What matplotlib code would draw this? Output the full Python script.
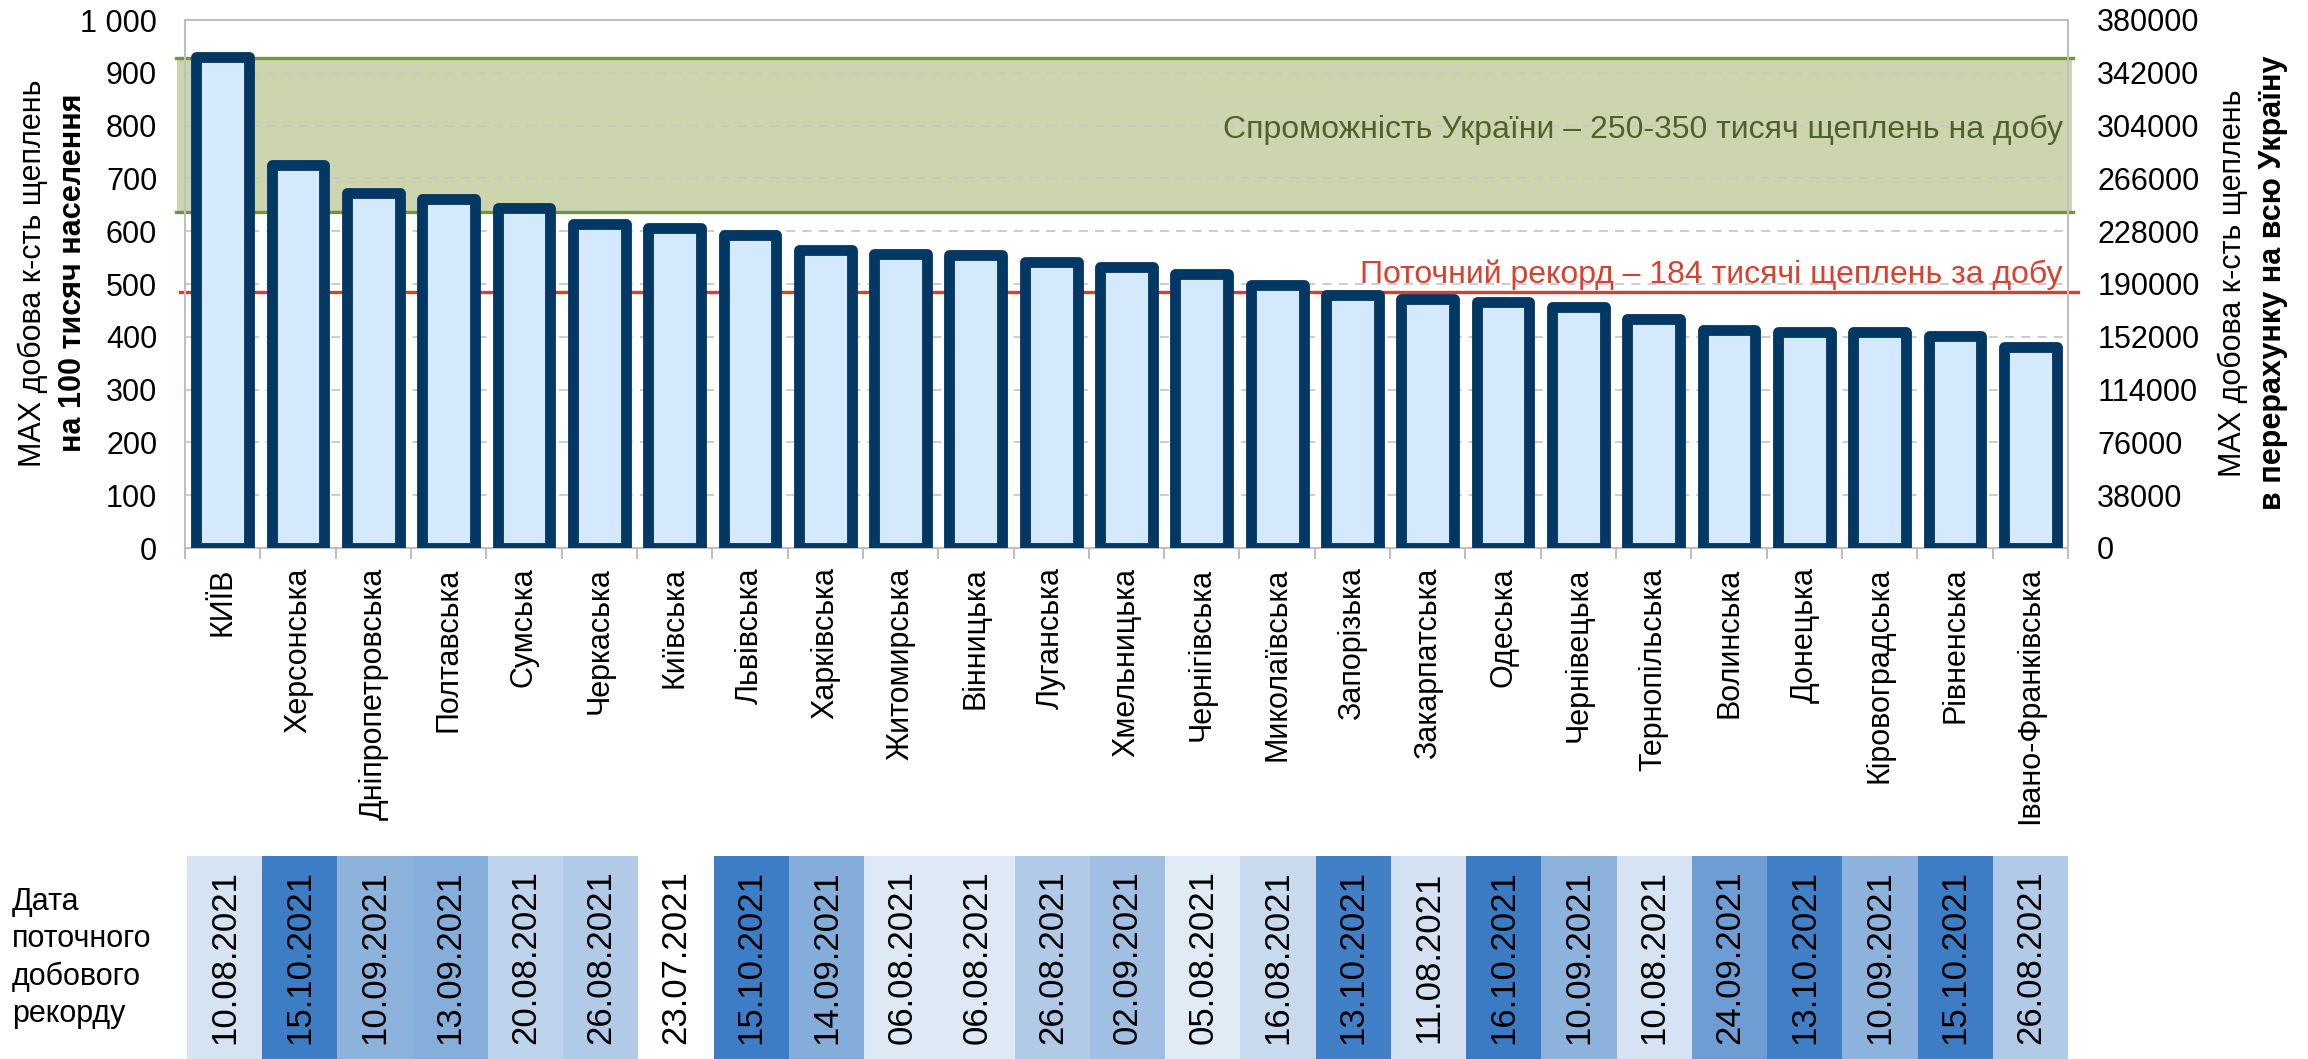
import numpy as np
import pandas as pd
import matplotlib
matplotlib.use("Agg")
from matplotlib import pyplot as plt
from matplotlib.colors import LinearSegmentedColormap

plt.rcParams['font.family'] = ['Liberation Sans', 'DejaVu Sans']

regions = ["КИЇВ", "Херсонська", "Дніпропетровська", "Полтавська", "Сумська",
           "Черкаська", "Київська", "Львівська", "Харківська", "Житомирська",
           "Вінницька", "Луганська", "Хмельницька", "Чернігівська", "Миколаївська",
           "Запорізька", "Закарпатська", "Одеська", "Чернівецька", "Тернопільська",
           "Волинська", "Донецька", "Кіровоградська", "Рівненська", "Івано-Франківська"]
max_per_100k = [930, 725, 673, 661, 643, 613, 606, 593, 565, 557,
                554, 541, 533, 519, 498, 480, 472, 466, 457, 434,
                413, 409, 409, 402, 380]
record_dates = ["10.08.2021", "15.10.2021", "10.09.2021", "13.09.2021", "20.08.2021",
                "26.08.2021", "23.07.2021", "15.10.2021", "14.09.2021", "06.08.2021",
                "06.08.2021", "26.08.2021", "02.09.2021", "05.08.2021", "16.08.2021",
                "13.10.2021", "11.08.2021", "16.10.2021", "10.09.2021", "10.08.2021",
                "24.09.2021", "13.10.2021", "10.09.2021", "15.10.2021", "26.08.2021"]

# capacity band and current record (left-axis units)
capacity_low, capacity_high = 637, 928
record_level = 484
right_max = 380000

W, H = 2308, 1059
fig = plt.figure(figsize=(W / 100, H / 100), dpi=100)

ax_l, ax_r, ax_t, ax_b = 185, 2068, 20, 548
ax = fig.add_axes([ax_l / W, 1 - ax_b / H, (ax_r - ax_l) / W, (ax_b - ax_t) / H])

x = np.arange(len(regions))
bars = ax.bar(x, max_per_100k, width=0.70, color='#D4EAFC', edgecolor='#023863',
              linewidth=7.8, zorder=3)
for b in bars:
    b.set_joinstyle('round')

# capacity band
ax.fill_between([-0.6, 24.55], capacity_low, capacity_high, color='#CCD5AE',
                zorder=0.2, clip_on=False, linewidth=0)
for yv in (capacity_low, capacity_high):
    ax.plot([-0.62, 24.56], [yv, yv], color='#77933C', lw=2.4, zorder=2.5, clip_on=False)
ax.plot([-0.57, 24.63], [record_level, record_level], color='#D9402C', lw=2.4,
        zorder=2.5, clip_on=False)

ax.text(24.43, 792, "Спроможність України – 250-350 тисяч щеплень на добу",
        color='#4F6228', fontsize=23, ha='right', va='center', zorder=4)
ax.text(24.43, 502, "Поточний рекорд – 184 тисячі щеплень за добу",
        color='#D8402F', fontsize=23, ha='right', va='baseline', zorder=4)

ax.set_xlim(-0.5, len(regions) - 0.5)
ax.set_ylim(0, 1000)
ax.set_yticks(np.arange(0, 1001, 100))
ax.set_yticklabels([f"{v:,}".replace(",", " ") for v in range(0, 1001, 100)])
ax.set_axisbelow(True)
ax.yaxis.grid(True, linestyle=(0, (5, 4)), color='#C8C8C8', linewidth=1.3)
ax.tick_params(axis='y', length=0, labelsize=22, pad=20)

ax.set_xticks(x)
ax.set_xticklabels(regions, rotation=90, fontsize=22)
ax.set_xticks(np.arange(-0.5, len(regions), 1), minor=True)
ax.tick_params(axis='x', which='major', length=0, pad=14)
ax.tick_params(axis='x', which='minor', length=8, width=1.5, color='#BFBFBF')
for s in ax.spines.values():
    s.set_color('#BFBFBF')
    s.set_linewidth(1.5)

ax2 = ax.twinx()
ax2.set_ylim(0, right_max)
ax2.set_yticks(np.arange(0, right_max + 1, 38000))
ax2.tick_params(axis='y', length=0, labelsize=22, pad=21)
for s in ax2.spines.values():
    s.set_visible(False)

# axis titles (two lines, second bold)
fig.text(33 / W, 1 - 273 / H, "MAX добова к-сть щеплень", rotation=90,
         ha='center', va='center', fontsize=22)
fig.text(73 / W, 1 - 273 / H, "на 100 тисяч населення", rotation=90,
         ha='center', va='center', fontsize=22, fontweight='bold')
fig.text(2233 / W, 1 - 283 / H, "MAX добова к-сть щеплень", rotation=90,
         ha='center', va='center', fontsize=22)
fig.text(2273 / W, 1 - 283 / H, "в перерахунку на всю Україну", rotation=90,
         ha='center', va='center', fontsize=22, fontweight='bold')

# date strip
strip_top = 856
ax3 = fig.add_axes([187 / W, 0, (ax_r - 187) / W, (H - strip_top) / H])
dates = pd.to_datetime(record_dates, format="%d.%m.%Y")
days = (dates - dates.min()).days.values
cmap = LinearSegmentedColormap.from_list("dates", ["#FFFFFF", "#3A7BC4"])
cell_colors = cmap(days / days.max())
ax3.bar(x, 1, width=1.0, color=cell_colors, linewidth=0)
for i, d in enumerate(record_dates):
    ax3.text(i, 0.5, d, rotation=90, ha='center', va='center', fontsize=25)
ax3.set_xlim(-0.5, len(regions) - 0.5)
ax3.set_ylim(0, 1)
ax3.axis('off')

fig.text(12 / W, 1 - 958 / H, "Дата\nпоточного\nдобового\nрекорду",
         ha='left', va='center', fontsize=22, linespacing=1.3)

fig.savefig("out.png", dpi=100)
